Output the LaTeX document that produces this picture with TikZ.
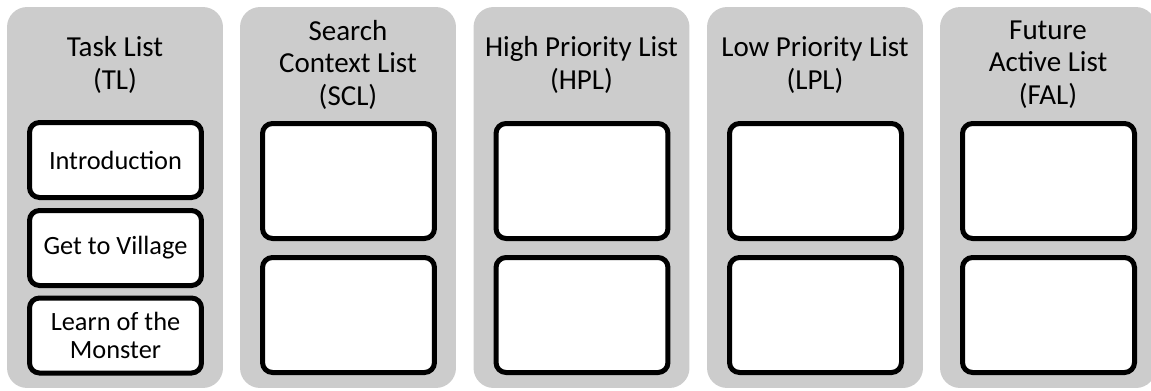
\documentclass[tikz,border=0pt]{standalone}
\usepackage{fontspec}
\setmainfont{Carlito}
\definecolor{panelgray}{RGB}{204,204,204}
\tikzset{
	listpanel/.style={fill=panelgray, rounded corners=0.4cm, minimum width=4.32cm, minimum height=7.62cm, inner sep=0pt},
	heading/.style={align=center, font=\fontsize{16.5}{18.5}\selectfont},
	entry/.style={draw, fill=white, line width=0.1cm, rounded corners=0.2cm, minimum width=3.44cm, align=center, font=\fontsize{15}{16}\selectfont, inner sep=0pt},
	entrytall/.style={entry, minimum height=2.3cm},
	entryshort/.style={entry, minimum height=1.5cm}
}
\begin{document}
\begin{tikzpicture}[x=0.02cm,y=-0.02cm]
	\useasboundingbox (0,0) rectangle (1151,390);
	% the five lists
	\node[listpanel] (tl) at (115,197.5) {};
	\node[listpanel] (scl) at (348,197.5) {};
	\node[listpanel] (hpl) at (581.5,197.5) {};
	\node[listpanel] (lpl) at (815,197.5) {};
	\node[listpanel] (fal) at (1048,197.5) {};
	% headings
	\node[heading] (tlTitle) at (115,65) {Task List\\(TL)};
	\node[heading] (sclTitle) at (348,64.5) {Search\\Context List\\(SCL)};
	\node[heading] (hplTitle) at (581.5,65) {High Priority List\\(HPL)};
	\node[heading] (lplTitle) at (815,65) {Low Priority List\\(LPL)};
	\node[heading] (falTitle) at (1048,64.5) {Future\\Active List\\(FAL)};
	% task list entries
	\node[entryshort] (tlA) at (115.5,160) {Introduction};
	\node[entryshort] (tlB) at (115.5,248) {Get to Village};
	\node[entryshort] (tlC) at (115.5,335.5) {Learn of the\\Monster};
	% empty slots
	\node[entrytall] (sclA) at (348.5,181) {};
	\node[entrytall] (sclB) at (348.5,315) {};
	\node[entrytall] (hplA) at (582,181) {};
	\node[entrytall] (hplB) at (582,315) {};
	\node[entrytall] (lplA) at (815.5,181) {};
	\node[entrytall] (lplB) at (815.5,315) {};
	\node[entrytall] (falA) at (1048.5,181) {};
	\node[entrytall] (falB) at (1048.5,315) {};
\end{tikzpicture}
\end{document}
